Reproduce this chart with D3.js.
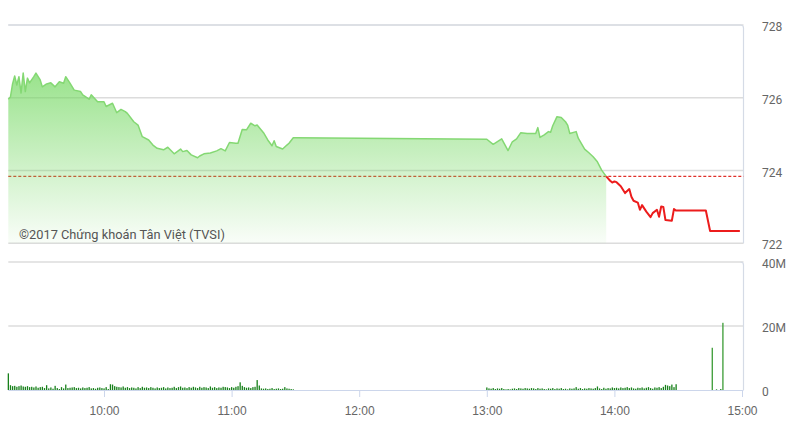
<!DOCTYPE html>
<html>
<head>
<meta charset="utf-8">
<script src="https://cdn.jsdelivr.net/npm/d3@7"></script>
<style>
  html, body { margin: 0; padding: 0; background: #fff; }
  svg { display: block; font-family: Roboto, "Open Sans", sans-serif; }
  .lbl { font-size: 12px; fill: #666; }
  .mark { font-size: 12.8px; fill: #555; }
</style>
</head>
<body>
<div id="chart"></div>
<script>
// price points (VN-Index intraday)
const priceTimes = [
  '09:15', '09:16', '09:17', '09:18', '09:19', '09:20', '09:21', '09:22', '09:23', '09:24',
  '09:25', '09:27', '09:28', '09:30', '09:31', '09:33', '09:35', '09:37', '09:39', '09:41',
  '09:42', '09:44', '09:46', '09:49', '09:50', '09:53', '09:54', '09:57', '10:00', '10:01',
  '10:04', '10:06', '10:08', '10:10', '10:11', '10:14', '10:16', '10:18', '10:21', '10:23',
  '10:25', '10:28', '10:30', '10:33', '10:36', '10:37', '10:39', '10:41', '10:44', '10:45',
  '10:47', '10:50', '10:53', '10:55', '10:57', '10:59', '11:02', '11:03', '11:05', '11:07',
  '11:09', '11:11', '11:12', '11:15', '11:17', '11:19', '11:20', '11:21', '11:24', '11:26',
  '11:27', '11:29', '11:30',
  '13:00', '13:03', '13:07', '13:10', '13:12', '13:14', '13:16', '13:19', '13:23', '13:24',
  '13:25', '13:27', '13:29', '13:30', '13:31', '13:33', '13:35', '13:37', '13:38', '13:39',
  '13:42', '13:43', '13:46', '13:48', '13:50', '13:52', '13:54', '13:56', '13:58', '13:59',
  '14:00', '14:01', '14:03', '14:05', '14:07', '14:08', '14:09', '14:11', '14:12', '14:13',
  '14:15', '14:17', '14:18', '14:20', '14:21', '14:22', '14:23', '14:24', '14:27', '14:28',
  '14:29', '14:30', '14:43', '14:45', '14:59'
];
const priceValues = [
  725.96, 726.02, 726.38, 726.60, 726.35, 726.58, 726.13, 726.68, 726.17, 726.54,
  726.41, 726.58, 726.68, 726.49, 726.30, 726.38, 726.41, 726.30, 726.44, 726.40,
  726.58, 726.40, 726.21, 726.17, 726.08, 725.96, 726.08, 725.89, 725.89, 725.76,
  725.85, 725.59, 725.68, 725.62, 725.57, 725.34, 725.25, 724.93, 724.84, 724.70,
  724.61, 724.57, 724.64, 724.46, 724.59, 724.52, 724.55, 724.43, 724.35, 724.40,
  724.46, 724.48, 724.54, 724.60, 724.54, 724.77, 724.75, 724.75, 725.13, 725.12,
  725.30, 725.23, 725.25, 725.04, 724.84, 724.68, 724.82, 724.66, 724.59, 724.70,
  724.75, 724.90, 724.90,
  724.86, 724.72, 724.87, 724.55, 724.79, 724.87, 725.04, 725.02, 725.02, 725.18,
  724.91, 724.98, 725.07, 725.05, 725.23, 725.48, 725.46, 725.34, 725.25, 725.02,
  725.07, 724.89, 724.59, 724.49, 724.38, 724.24, 724.01, 723.85, 723.72, 723.67,
  723.70, 723.68, 723.57, 723.38, 723.49, 723.28, 723.17, 723.12, 722.92, 723.05,
  722.87, 722.72, 722.83, 722.92, 722.73, 723.01, 723.00, 722.64, 722.62, 722.94,
  722.90, 722.90, 722.90, 722.34, 722.34
];
const refPrice = 723.84;

// volume per minute, millions
const volMorningStart = '09:15';
const volMorning = [
  5.2, 1.5, 1.2, 1.3, 1.0, 1.2, 1.4, 1.1, 1.0, 1.2,
  0.9, 1.0, 0.8, 1.1, 0.7, 0.9, 1.0, 0.6, 1.5, 0.5,
  0.8, 0.4, 1.3, 0.6, 0.3, 0.9, 0.5, 1.7, 0.6, 0.7,
  0.8, 0.9, 0.6, 0.7, 0.5, 0.8, 0.6, 0.7, 0.9, 0.5,
  0.6, 0.4, 0.7, 0.8, 0.6, 0.5, 0.9, 0.3, 1.8, 1.7,
  1.2, 1.0, 0.9, 0.8, 1.1, 0.7, 0.9, 0.6, 0.8, 0.7,
  0.5, 0.9, 0.6, 1.0, 0.7, 0.8, 0.6, 0.9, 0.7, 0.5,
  0.8, 0.6, 0.7, 0.9, 0.5, 0.8, 0.6, 0.7, 1.0, 0.6,
  0.9, 1.1, 0.7, 0.8, 0.6, 0.9, 0.7, 1.0, 0.8, 0.6,
  1.0, 0.7, 0.9, 0.8, 0.6, 1.1, 0.7, 0.9, 0.6, 0.8,
  0.7, 1.0, 0.9, 0.8, 0.6, 0.9, 0.7, 1.0, 1.2, 2.4,
  1.3, 0.9, 0.7, 0.8, 0.6, 0.9, 1.0, 3.1, 1.4, 0.5,
  0.4, 0.5, 0.3, 0.4, 0.6, 0.3, 0.4, 0.5, 0.3, 0.4,
  0.9, 0.5, 0.4, 0.3, 0.2
];
const volAfternoonStart = '13:00';
const volAfternoon = [
  0.8, 0.5, 0.4, 0.6, 0.3, 0.5, 0.4, 0.6, 0.3, 0.2,
  0.3, 0.2, 0.4, 0.5, 0.3, 0.6, 0.5, 0.4, 0.6, 0.5,
  0.4, 0.6, 0.5, 0.3, 0.6, 0.4, 0.5, 0.3, 0.2, 0.5,
  0.4, 0.6, 0.3, 0.5, 0.4, 0.6, 0.3, 0.4, 0.2, 0.5,
  0.4, 0.5, 0.9, 0.4, 0.6, 0.3, 0.5, 0.4, 0.6, 0.5,
  0.4, 0.6, 1.1, 0.5, 0.3, 0.7, 0.4, 0.6, 0.5, 0.8,
  0.6, 0.7, 0.5, 0.8, 0.6, 0.7, 0.9, 0.6, 0.8, 0.5,
  0.4, 0.7, 0.6, 0.8, 0.5, 0.7, 0.9, 0.6, 0.4, 0.8,
  0.7, 0.9, 0.6, 1.0, 1.6, 1.4, 1.2, 1.7, 0.9, 1.8
];
const volCloseTimes = ['14:46', '14:48', '14:50', '14:51'];
const volClose = [13.2, 0.2, 0.3, 21.0];

const priceTicks = [722, 724, 726, 728];
const volTicks = [0, 20, 40];
const volTickLabels = ['0', '20M', '40M'];
const timeTicks = ['10:00', '11:00', '12:00', '13:00', '14:00', '15:00'];
const watermark = '©2017 Chứng khoán Tân Việt (TVSI)';

const width = 800;
const height = 421;
const plot = { left: 8.3, right: 743.5 };
const pricePane = { y0: 25, y1: 243.3 };
const volPane = { y0: 262, y1: 390 };

const parse = d3.timeParse('%H:%M');
const addMin = (t, m) => d3.timeMinute.offset(t, m);

const prices = priceTimes.map((t, i) => ({ t: parse(t), v: priceValues[i] }));
let volumes = [];
volMorning.forEach((v, i) => volumes.push({ t: addMin(parse(volMorningStart), i), v: v }));
volAfternoon.forEach((v, i) => volumes.push({ t: addMin(parse(volAfternoonStart), i), v: v }));
volCloseTimes.forEach((t, i) => volumes.push({ t: parse(t), v: volClose[i] }));

const x = d3.scaleTime()
  .domain([parse('09:15'), parse('15:00')])
  .range([plot.left, 742]);
const y = d3.scaleLinear().domain([722, 728]).range([pricePane.y1, pricePane.y0]);
const yv = d3.scaleLinear().domain([0, 40]).range([volPane.y1, volPane.y0]);

const svg = d3.select('#chart').append('svg')
  .attr('width', width)
  .attr('height', height);

// semi transparent green, so the dashed reference shows through darker
const defs = svg.append('defs');
const grad = defs.append('linearGradient')
  .attr('id', 'areaFill')
  .attr('gradientUnits', 'userSpaceOnUse')
  .attr('x1', 0).attr('x2', 0)
  .attr('y1', 70).attr('y2', pricePane.y1);
grad.append('stop').attr('offset', 0).attr('stop-color', '#70d75d').attr('stop-opacity', 0.72);
grad.append('stop').attr('offset', 0.61).attr('stop-color', '#70d75d').attr('stop-opacity', 0.3);
grad.append('stop').attr('offset', 1).attr('stop-color', '#70d75d').attr('stop-opacity', 0.04);

// gridlines
svg.append('g').selectAll('line')
  .data(priceTicks)
  .enter().append('line')
  .attr('x1', plot.left).attr('x2', plot.right)
  .attr('y1', (d) => y(d)).attr('y2', (d) => y(d))
  .attr('stroke', '#dcdcdc')
  .attr('stroke-width', 1.5);
svg.append('g').selectAll('line')
  .data(volTicks.slice(1))
  .enter().append('line')
  .attr('x1', plot.left).attr('x2', plot.right)
  .attr('y1', (d) => yv(d)).attr('y2', (d) => yv(d))
  .attr('stroke', '#dcdcdc')
  .attr('stroke-width', 1.5);

// right borders
svg.append('path')
  .attr('d', `M${plot.left},${pricePane.y0}H${plot.right - 3}Q${plot.right},${pricePane.y0} ${plot.right},${pricePane.y0 + 3}V${pricePane.y1}`)
  .attr('fill', 'none').attr('stroke', '#d5dbe6').attr('stroke-width', 1.2);
svg.append('path')
  .attr('d', `M${plot.right - 3},${volPane.y0}Q${plot.right},${volPane.y0} ${plot.right},${volPane.y0 + 3}V${volPane.y1}`)
  .attr('fill', 'none').attr('stroke', '#d5dbe6').attr('stroke-width', 1.2);

// split the price series where it crosses the reference
let cross = prices.length - 1;
for (let i = 1; i < prices.length; i++) {
  if (prices[i].v < refPrice && prices[i - 1].v >= refPrice) {
    cross = i;
    break;
  }
}
const a = prices[cross - 1];
const b = prices[cross];
const k = (a.v - refPrice) / (a.v - b.v);
const cp = { t: new Date(+a.t + k * (b.t - a.t)), v: refPrice };
const upPart = prices.slice(0, cross).concat([cp]);
const downPart = [cp].concat(prices.slice(cross));

const area = d3.area()
  .x((d) => x(d.t))
  .y0(pricePane.y1)
  .y1((d) => y(d.v));
const line = d3.line()
  .x((d) => x(d.t))
  .y((d) => y(d.v));

// reference line (under the fill)
svg.append('line')
  .attr('x1', plot.left).attr('x2', plot.right)
  .attr('y1', y(refPrice)).attr('y2', y(refPrice))
  .attr('stroke', '#e0302a')
  .attr('stroke-width', 1.2)
  .attr('stroke-dasharray', '3,2');

svg.append('path')
  .datum(upPart)
  .attr('d', area)
  .attr('fill', 'url(#areaFill)');

svg.append('path')
  .datum(upPart)
  .attr('d', line)
  .attr('fill', 'none')
  .attr('stroke', '#84d873')
  .attr('stroke-width', 1.5)
  .attr('stroke-linejoin', 'round');
svg.append('path')
  .datum(downPart)
  .attr('d', line)
  .attr('fill', 'none')
  .attr('stroke', '#ec1c1c')
  .attr('stroke-width', 2)
  .attr('stroke-linejoin', 'round');

// volume bars
svg.append('g').selectAll('rect')
  .data(volumes)
  .enter().append('rect')
  .attr('x', (d) => x(d.t) - 0.6)
  .attr('width', 1.3)
  .attr('y', (d) => yv(d.v))
  .attr('height', (d) => volPane.y1 - yv(d.v))
  .attr('fill', (d) => d.v > 10 ? '#3b9b35' : '#17801a');

// x axis
const xAxis = d3.axisBottom(x)
  .tickValues(timeTicks.map(parse))
  .tickSize(7)
  .tickPadding(9)
  .tickFormat(d3.timeFormat('%H:%M'));
const gX = svg.append('g')
  .attr('transform', `translate(0,${volPane.y1})`)
  .call(xAxis);
gX.select('.domain')
  .attr('d', `M${plot.left},0.5H${plot.right}`)
  .attr('stroke', '#ccd6eb');
gX.selectAll('.tick line').attr('stroke', '#ccd6eb');
gX.selectAll('.tick text')
  .attr('class', 'lbl')
  .attr('font-size', null).attr('font-family', null).attr('fill', null);

// right axes labels
svg.append('g').selectAll('text')
  .data(priceTicks)
  .enter().append('text')
  .attr('class', 'lbl')
  .attr('x', 762)
  .attr('y', (d) => y(d) + 6)
  .text((d) => d);
svg.append('g').selectAll('text')
  .data(volTicks)
  .enter().append('text')
  .attr('class', 'lbl')
  .attr('x', 762)
  .attr('y', (d) => yv(d) + 6)
  .text((d, i) => volTickLabels[i]);

svg.append('text')
  .attr('class', 'mark')
  .attr('x', 19)
  .attr('y', 239)
  .text(watermark);
</script>
</body>
</html>
